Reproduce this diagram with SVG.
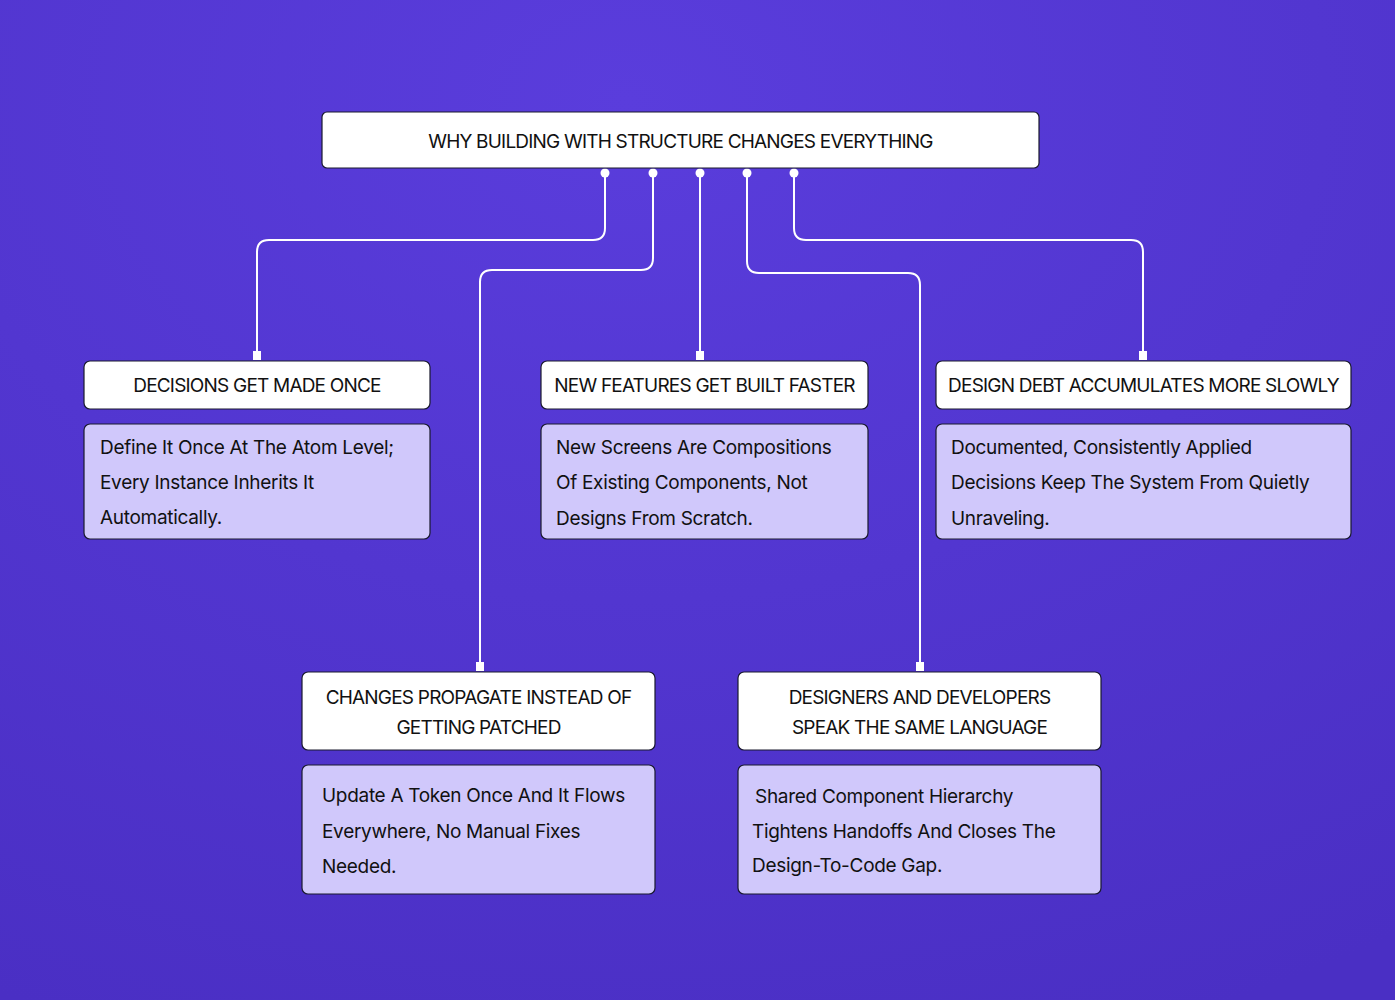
<svg xmlns="http://www.w3.org/2000/svg" width="1395" height="1000" viewBox="0 0 1395 1000">
<defs>
<radialGradient id="bg" cx="0.45" cy="0.1" r="1">
<stop offset="0" stop-color="#5a3ddc"/><stop offset="1" stop-color="#4a2fc4"/>
</radialGradient>
<marker id="dot" markerWidth="10" markerHeight="10" refX="5" refY="5" markerUnits="userSpaceOnUse"><circle cx="5" cy="5" r="4.5" fill="#fff"/></marker>
<marker id="sq" markerWidth="10" markerHeight="10" refX="4" refY="6" markerUnits="userSpaceOnUse" orient="auto"><rect x="0" y="0" width="8" height="8" fill="#fff" transform="rotate(90 4 4)"/></marker>
</defs>
<style>
.h{fill:#fff;stroke:#1a1a2e;stroke-width:1.2}
.b{fill:#d0c8fb;stroke:#1a1a2e;stroke-width:1.2}
.t{font-family:Inter,"Liberation Sans",sans-serif;font-size:19px;fill:#111;letter-spacing:-0.8px}
.c{text-anchor:middle}
.d{font-family:Inter,"Liberation Sans",sans-serif;font-size:19px;fill:#111;letter-spacing:-0.3px}
.l{fill:none;stroke:#fff;stroke-width:2}
</style>
<rect width="1395" height="1000" fill="url(#bg)"/>
<g id="connectors">
<path class="l" d="M605 173 V228 Q605 240 593 240 H269 Q257 240 257 252 V358"/>
<path class="l" d="M653 173 V258 Q653 270 641 270 H492 Q480 270 480 282 V668"/>
<path class="l" d="M700 173 V358"/>
<path class="l" d="M747 173 V261 Q747 273 759 273 H908 Q920 273 920 285 V668"/>
<path class="l" d="M794 173 V228 Q794 240 806 240 H1131 Q1143 240 1143 252 V358"/>
<g fill="#fff">
<circle cx="605" cy="173" r="4.5"/><circle cx="653" cy="173" r="4.5"/><circle cx="700" cy="173" r="4.5"/><circle cx="747" cy="173" r="4.5"/><circle cx="794" cy="173" r="4.5"/>
<rect x="253" y="351" width="8" height="9"/><rect x="696" y="351" width="8" height="9"/><rect x="1139" y="351" width="8" height="9"/><rect x="476" y="662" width="8" height="9"/><rect x="916" y="662" width="8" height="9"/>
</g>
</g>
<g id="title"><rect class="h" x="322" y="112" width="717" height="56" rx="5"/><text class="t c" x="680.5" y="148" font-size="22">WHY BUILDING WITH STRUCTURE CHANGES EVERYTHING</text></g>
<g id="n1"><rect class="h" x="84" y="361" width="346" height="48" rx="6"/><text class="t c" x="257" y="392">DECISIONS GET MADE ONCE</text>
<rect class="b" x="84" y="424" width="346" height="115" rx="6"/><text class="d" x="100" y="454">Define It Once At The Atom Level;</text><text class="d" x="100" y="489">Every Instance Inherits It</text><text class="d" x="100" y="524">Automatically.</text></g>
<g id="n2"><rect class="h" x="541" y="361" width="327" height="48" rx="6"/><text class="t c" x="704.5" y="392">NEW FEATURES GET BUILT FASTER</text>
<rect class="b" x="541" y="424" width="327" height="115" rx="6"/><text class="d" x="556" y="454">New Screens Are Compositions</text><text class="d" x="556" y="489">Of Existing Components, Not</text><text class="d" x="556" y="525">Designs From Scratch.</text></g>
<g id="n3"><rect class="h" x="936" y="361" width="415" height="48" rx="6"/><text class="t c" x="1143.5" y="392">DESIGN DEBT ACCUMULATES MORE SLOWLY</text>
<rect class="b" x="936" y="424" width="415" height="115" rx="6"/><text class="d" x="951" y="454">Documented, Consistently Applied</text><text class="d" x="951" y="489">Decisions Keep The System From Quietly</text><text class="d" x="951" y="525">Unraveling.</text></g>
<g id="n4"><rect class="h" x="302" y="672" width="353" height="78" rx="6"/><text class="t c" x="478.5" y="704">CHANGES PROPAGATE INSTEAD OF</text><text class="t c" x="478.5" y="734">GETTING PATCHED</text>
<rect class="b" x="302" y="765" width="353" height="129" rx="6"/><text class="d" x="322" y="802">Update A Token Once And It Flows</text><text class="d" x="322" y="838">Everywhere, No Manual Fixes</text><text class="d" x="322" y="873">Needed.</text></g>
<g id="n5"><rect class="h" x="738" y="672" width="363" height="78" rx="6"/><text class="t c" x="919.5" y="704">DESIGNERS AND DEVELOPERS</text><text class="t c" x="919.5" y="734">SPEAK THE SAME LANGUAGE</text>
<rect class="b" x="738" y="765" width="363" height="129" rx="6"/><text class="d" x="755" y="803">Shared Component Hierarchy</text><text class="d" x="752" y="838">Tightens Handoffs And Closes The</text><text class="d" x="752" y="872">Design-To-Code Gap.</text></g>
</svg>
